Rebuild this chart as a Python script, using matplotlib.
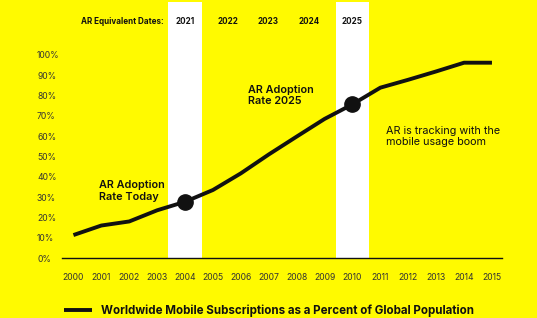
import matplotlib.pyplot as plt

plt.rcParams['font.family'] = ['Inter', 'DejaVu Sans']

BG = '#FFFA00'
INK = '#111111'

years = list(range(2000, 2016))
pct = [11.3, 16.0, 18.0, 23.5, 27.7, 33.5, 41.7, 51.0, 59.8, 68.5, 75.7,
       83.9, 87.8, 91.9, 96.2, 96.2]

# highlighted years and the AR adoption they stand for
hl_years = [2004, 2010]
hl_pct = [27.7, 75.7]
ar_labels = ['2021', '2022', '2023', '2024', '2025']
ar_x = [2004, 2005.55, 2006.98, 2008.45, 2010]  # label positions on the top row

y_ticks = list(range(0, 101, 10))
y_labels = [f'{v}%' for v in y_ticks]

series_label = 'Worldwide Mobile Subscriptions as a Percent of Global Population'

fig = plt.figure(figsize=(5.37, 3.18), dpi=100, facecolor=BG)
ax = fig.add_axes([62 / 537, 60 / 318, 440 / 537, 256 / 318])
ax.set_facecolor(BG)

ax.set_xlim(1999.59, 2015.36)
ax.set_ylim(0, 126.1)

for y in hl_years:
    ax.axvspan(y - 0.6, y + 0.6, color='white', lw=0, zorder=1)

ax.plot(years, pct, color=INK, lw=2.8, solid_capstyle='butt', zorder=3,
        label=series_label)
ax.plot(hl_years, hl_pct, 'o', color=INK, ms=11, zorder=4)

# AR equivalent dates row
label_y = 116.7
ax.text(2003.25, label_y, 'AR Equivalent Dates:', ha='right', va='center',
        fontsize=5.8, fontweight='bold', color=INK)
for xpos, lab in zip(ar_x, ar_labels):
    ax.text(xpos, label_y, lab, ha='center', va='center', fontsize=5.8,
            fontweight='bold', color=INK)

ax.text(2000.92, 33.0, 'AR Adoption\nRate Today', ha='left', va='center',
        fontsize=7.8, fontweight='semibold', color=INK, linespacing=1.15)
ax.text(2006.25, 80.0, 'AR Adoption\nRate 2025', ha='left', va='center',
        fontsize=7.8, fontweight='semibold', color=INK, linespacing=1.15)
ax.text(2011.22, 60.0, 'AR is tracking with the\nmobile usage boom', ha='left',
        va='center', fontsize=7.8, color=INK, linespacing=1.15)

ax.set_yticks(y_ticks)
ax.set_yticklabels(y_labels)
ax.set_xticks(years)
ax.set_xticklabels([str(y) for y in years])
ax.tick_params(axis='y', length=0, pad=18, labelsize=6.2, labelcolor='#333333')
ax.tick_params(axis='x', length=0, pad=11, labelsize=6.2, labelcolor='#333333')
for lab in ax.get_yticklabels():
    lab.set_ha('left')

for side in ['top', 'right', 'left']:
    ax.spines[side].set_visible(False)
ax.spines['bottom'].set_color(INK)
ax.spines['bottom'].set_linewidth(1.0)
ax.spines['bottom'].set_zorder(5)

leg = fig.legend(loc='center left', bbox_to_anchor=(64 / 537, 1 - 311 / 318),
                 frameon=False, borderpad=0, borderaxespad=0,
                 handlelength=2.4, handletextpad=0.8,
                 prop={'size': 8.3, 'weight': 'bold'})
for t in leg.get_texts():
    t.set_color(INK)

fig.savefig('out.png', dpi=100, facecolor=BG)
